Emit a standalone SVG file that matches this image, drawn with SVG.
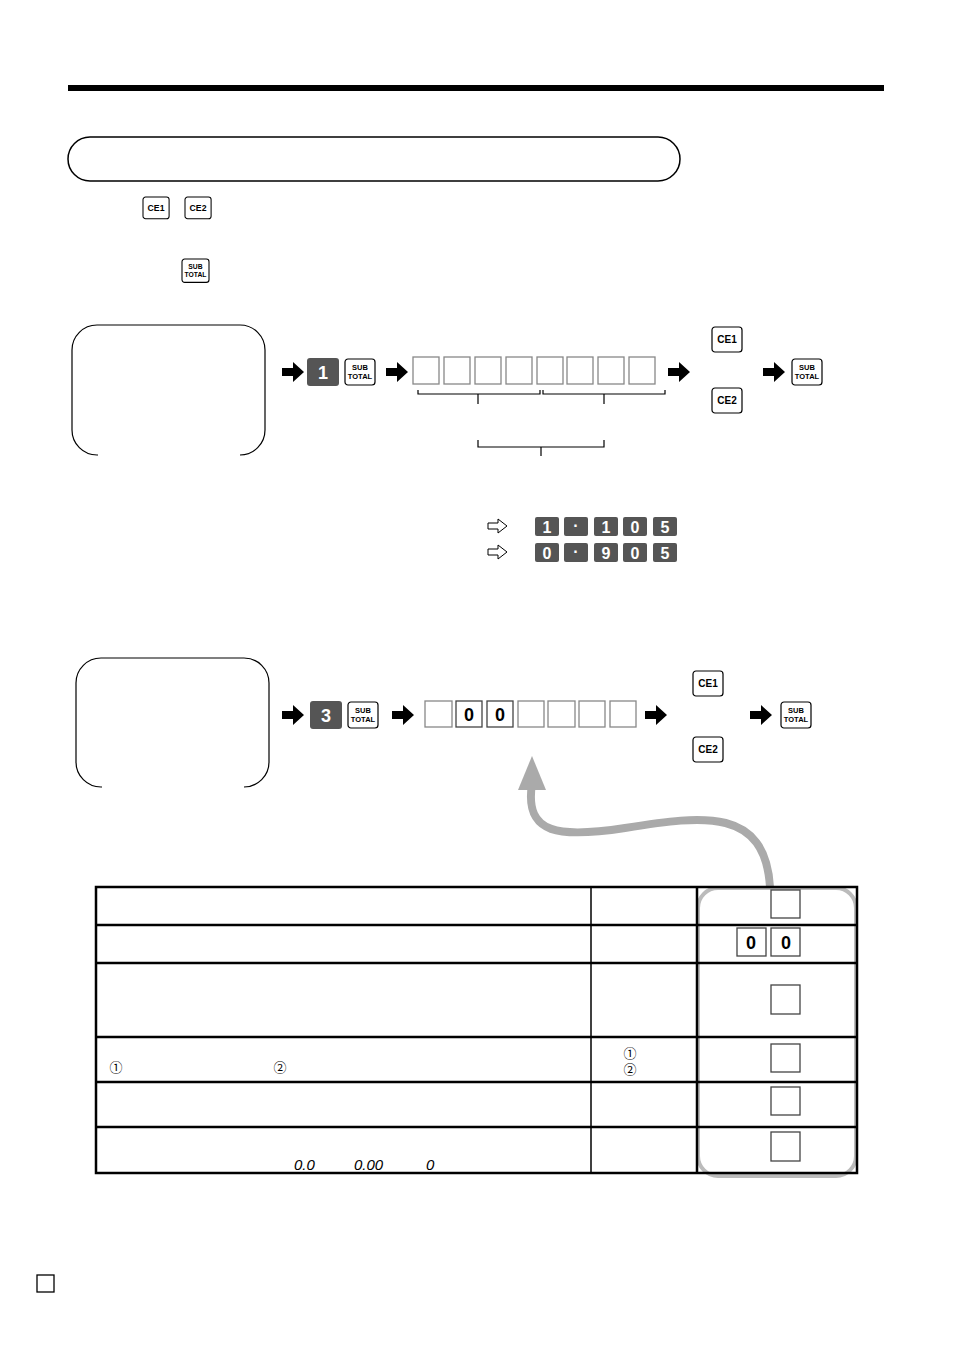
<svg xmlns="http://www.w3.org/2000/svg" width="954" height="1351" viewBox="0 0 954 1351">
<style>
.k{fill:#fff;stroke:#000;stroke-width:1.2}
.kt{font-family:"Liberation Sans",Arial,sans-serif;font-weight:bold;font-size:10px;text-anchor:middle}
.st{font-family:"Liberation Sans",Arial,sans-serif;font-weight:bold;font-size:7.5px;text-anchor:middle}
.b{fill:#fff;stroke:#888;stroke-width:1.3}
.bd{fill:#fff;stroke:#444;stroke-width:1.3}
.d{fill:#555}
.dt{font-family:"Liberation Sans",Arial,sans-serif;font-weight:bold;font-size:18px;fill:#fff;text-anchor:middle}
.n{font-family:"Liberation Sans",Arial,sans-serif;font-weight:bold;font-size:18px;text-anchor:middle}
.ln{fill:none;stroke:#000;stroke-width:1.2}
.tl{stroke:#000;stroke-width:2.5}
.c{font-family:"Noto Sans CJK JP","DejaVu Sans",sans-serif;font-size:13px;fill:#000;text-anchor:middle}
.i{font-family:"Liberation Sans",Arial,sans-serif;font-style:italic;font-size:15px}
</style>
<defs>
<path id="ar" d="M0,-4 L11,-4 L11,-10 L22,0 L11,10 L11,4 L0,4 Z" fill="#000"/>
<path id="ha" d="M0,-3 L10,-3 L10,-7 L19,0 L10,7 L10,3 L0,3 Z" fill="#fff" stroke="#000" stroke-width="1"/>
<g id="sub"><rect class="k" x="0" y="0" width="30" height="26" rx="3"/><text class="st" x="15" y="11">SUB</text><text class="st" x="15" y="20">TOTAL</text></g>
<g id="ce1"><rect class="k" x="0" y="0" width="30" height="25" rx="3"/><text class="kt" x="15" y="16">CE1</text></g>
<g id="ce2"><rect class="k" x="0" y="0" width="30" height="25" rx="3"/><text class="kt" x="15" y="16">CE2</text></g>
</defs>
<rect x="68" y="85" width="816" height="6" fill="#000"/>
<g id="title"><rect x="68" y="137" width="612" height="44" rx="22" fill="#fff" stroke="#000" stroke-width="1.5"/></g>
<g id="intro">
<g transform="translate(143,197) scale(0.87)"><use href="#ce1"/></g>
<g transform="translate(185,197) scale(0.87)"><use href="#ce2"/></g>
<g transform="translate(182,259) scale(0.9)"><use href="#sub"/></g>
</g>
<g id="box1"><path class="ln" stroke-width="1.5" d="M98,455 H97 A25,25 0 0 1 72,430 V350 A25,25 0 0 1 97,325 H240 A25,25 0 0 1 265,350 V430 A25,25 0 0 1 240,455"/></g>
<g id="box2"><path class="ln" stroke-width="1.5" d="M102,787 H101 A25,25 0 0 1 76,762 V683 A25,25 0 0 1 101,658 H244 A25,25 0 0 1 269,683 V762 A25,25 0 0 1 244,787"/></g>
<g id="connectors">
<use href="#ar" x="282" y="372"/><use href="#ar" x="386" y="372"/><use href="#ar" x="668" y="372"/><use href="#ar" x="763" y="372"/>
<use href="#ar" x="282" y="715"/><use href="#ar" x="392" y="715"/><use href="#ar" x="645" y="715"/><use href="#ar" x="750" y="715"/>
<use href="#ha" x="488" y="526"/><use href="#ha" x="488" y="552"/>
<path class="ln" d="M418,390 V394 H540 V390 M478,394 V404 M543,390 V394 H665 V390 M604,394 V404 M478,440 V447 H604 V440 M541,447 V456"/>
<path d="M532,784 C524,835 560,838 625,828 C705,815 765,808 770,887" fill="none" stroke="#aaa" stroke-width="8"/>
<path d="M532,756 L546,790 L518,790 Z" fill="#aaa"/>
</g>
<g id="row1">
<rect class="d" x="307" y="358" width="32" height="28" rx="3"/><text class="dt" x="323" y="379">1</text>
<use href="#sub" x="345" y="359"/>
<rect class="b" x="413" y="357" width="26" height="27"/><rect class="b" x="444" y="357" width="26" height="27"/><rect class="b" x="475" y="357" width="26" height="27"/><rect class="b" x="506" y="357" width="26" height="27"/>
<rect class="b" x="537" y="357" width="26" height="27"/><rect class="b" x="567" y="357" width="26" height="27"/><rect class="b" x="598" y="357" width="26" height="27"/><rect class="b" x="629" y="357" width="26" height="27"/>
<use href="#ce1" x="712" y="327"/><use href="#ce2" x="712" y="388"/>
<use href="#sub" x="792" y="359"/>
</g>
<g id="examples">
<g class="d"><rect x="535" y="517" width="24" height="19" rx="2"/><rect x="564" y="517" width="24" height="19" rx="2"/><rect x="594" y="517" width="24" height="19" rx="2"/><rect x="623" y="517" width="24" height="19" rx="2"/><rect x="653" y="517" width="24" height="19" rx="2"/>
<rect x="535" y="543" width="24" height="19" rx="2"/><rect x="564" y="543" width="24" height="19" rx="2"/><rect x="594" y="543" width="24" height="19" rx="2"/><rect x="623" y="543" width="24" height="19" rx="2"/><rect x="653" y="543" width="24" height="19" rx="2"/></g>
<g class="dt" style="font-size:16px"><text x="547" y="533">1</text><text x="576" y="531">·</text><text x="606" y="533">1</text><text x="635" y="533">0</text><text x="665" y="533">5</text>
<text x="547" y="559">0</text><text x="576" y="557">·</text><text x="606" y="559">9</text><text x="635" y="559">0</text><text x="665" y="559">5</text></g>
</g>
<g id="row2">
<rect class="d" x="310" y="701" width="32" height="28" rx="3"/><text class="dt" x="326" y="722">3</text>
<use href="#sub" x="348" y="702"/>
<rect class="b" x="425" y="701" width="27" height="26"/><rect class="bd" x="456" y="701" width="26" height="26"/><rect class="bd" x="487" y="701" width="26" height="26"/><rect class="b" x="518" y="701" width="26" height="26"/>
<rect class="b" x="548" y="701" width="27" height="26"/><rect class="b" x="579" y="701" width="26" height="26"/><rect class="b" x="610" y="701" width="26" height="26"/>
<text class="n" x="469" y="721">0</text><text class="n" x="500" y="721">0</text>
<use href="#ce1" x="693" y="671"/><use href="#ce2" x="693" y="737"/>
<use href="#sub" x="781" y="702"/>
</g>
<g id="table">
<rect x="698" y="888" width="158" height="288" rx="20" fill="none" stroke="#bbb" stroke-width="4"/>
<rect x="96" y="887" width="761" height="286" fill="none" stroke="#000" stroke-width="2.5"/>
<line class="tl" x1="96" y1="925" x2="857" y2="925"/><line class="tl" x1="96" y1="963" x2="857" y2="963"/><line class="tl" x1="96" y1="1037" x2="857" y2="1037"/><line class="tl" x1="96" y1="1082" x2="857" y2="1082"/><line class="tl" x1="96" y1="1127" x2="857" y2="1127"/>
<line x1="591" y1="887" x2="591" y2="1173" stroke="#000" stroke-width="1.5"/><line class="tl" x1="697" y1="887" x2="697" y2="1173"/>
<rect class="bd" x="771" y="890" width="29" height="28"/>
<rect class="bd" x="737" y="928" width="29" height="28"/><rect class="bd" x="771" y="928" width="29" height="28"/>
<text class="n" x="751" y="949">0</text><text class="n" x="786" y="949">0</text>
<rect class="bd" x="771" y="985" width="29" height="29"/>
<rect class="bd" x="771" y="1044" width="29" height="28"/>
<rect class="bd" x="771" y="1087" width="29" height="28"/>
<rect class="bd" x="771" y="1132" width="29" height="29"/>
<text class="c" x="116" y="1072">①</text><text class="c" x="280" y="1072">②</text>
<text class="c" x="630" y="1058">①</text><text class="c" x="630" y="1074">②</text>
<text class="i" x="294" y="1170">0.0</text><text class="i" x="354" y="1170">0.00</text><text class="i" x="426" y="1170">0</text>
</g>
<rect x="37" y="1275" width="17" height="17" fill="#fff" stroke="#000" stroke-width="1.3"/>
</svg>
